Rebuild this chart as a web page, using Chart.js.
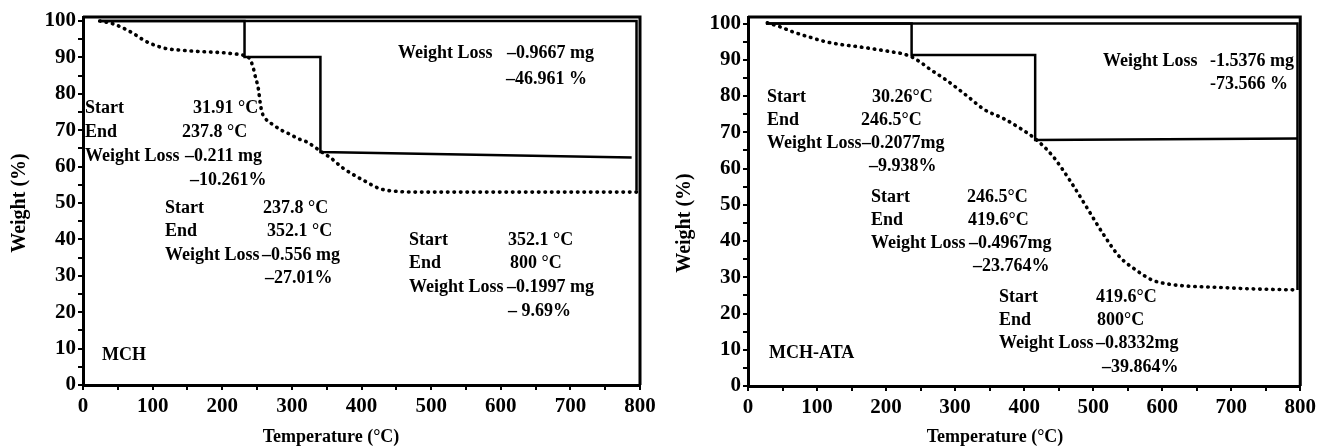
<!DOCTYPE html>
<html lang="en">
<head>
<meta charset="UTF-8">
<title>TGA curves</title>
<script src="https://cdn.jsdelivr.net/npm/chart.js"></script>
<style>
  body { margin: 0; background: #fff; }
  .row { display: flex; width: 1320px; height: 448px; }
  .panel { position: relative; width: 660px; height: 448px; }
</style>
</head>
<body>
<div class="row">
  <div class="panel"><canvas id="mchChart"></canvas></div>
  <div class="panel"><canvas id="ataChart"></canvas></div>
</div>
<script>
const FONT = "'Liberation Serif', 'Times New Roman', serif";

// MCH - weight curve (dotted)
const mchTemp   = [24, 40, 55, 72, 85, 96, 110, 120, 140, 168, 200, 216, 230, 239, 244, 247, 250, 252, 254.5, 257, 262, 273, 285, 293, 310, 321, 343, 355, 374, 390, 403, 427, 451, 480, 550, 650, 796];
const mchWeight = [100, 99.4, 98.3, 96.6, 95.0, 93.9, 92.9, 92.4, 92.0, 91.6, 91.3, 91.0, 90.6, 89.7, 87.5, 85.1, 83.0, 81.2, 77.5, 75.0, 73.2, 71.5, 70.0, 69.3, 67.6, 66.8, 64.0, 62.5, 59.5, 57.6, 56.2, 53.9, 53.2, 53.0, 53.0, 53.0, 53.0];
// MCH - step analysis line
const mchStepTemp   = [24, 232, 232, 341, 341, 788];
const mchStepWeight = [100, 100, 90.1, 90.1, 64.0, 62.5];
// MCH - total loss bracket
const mchTotalTemp   = [24, 795, 795];
const mchTotalWeight = [100, 100, 53.4];

// MCH-ATA - weight curve (dotted)
const ataTemp   = [28, 45, 65, 90, 112, 135, 160, 185, 208, 225, 237, 250, 265, 285, 304, 322, 342, 370, 395, 418, 442, 466, 490, 514, 538, 562, 586, 610, 634, 681, 729, 796];
const ataWeight = [100.2, 99.2, 97.7, 96.2, 95.0, 94.2, 93.6, 92.9, 92.2, 91.6, 90.8, 89.3, 87.2, 84.7, 82.0, 79.3, 76.3, 73.8, 71.0, 67.9, 63.3, 56.8, 49.5, 42.1, 35.7, 32.0, 29.2, 28.1, 27.6, 27.2, 26.8, 26.5];
// MCH-ATA - step analysis line
const ataStepTemp   = [26, 237, 237, 416, 416, 796];
const ataStepWeight = [100, 100, 91.3, 91.3, 67.9, 68.3];
// MCH-ATA - total loss bracket
const ataTotalTemp   = [26, 796, 796];
const ataTotalWeight = [100, 100, 26.5];

const xTickLabels = ['0', '100', '200', '300', '400', '500', '600', '700', '800'];
const yTickLabels = ['0', '10', '20', '30', '40', '50', '60', '70', '80', '90', '100'];

// annotation blocks: [text, x, y] in canvas pixels
const mchNotes = [
  ['Start', 85, 108], ['31.91 \u00B0C', 193, 108],
  ['End', 85, 132], ['237.8 \u00B0C', 182, 132],
  ['Weight Loss', 85, 156], ['\u20130.211 mg', 185, 156],
  ['\u201310.261%', 190, 180],
  ['Start', 165, 208], ['237.8 \u00B0C', 263, 208],
  ['End', 165, 231], ['352.1 \u00B0C', 267, 231],
  ['Weight Loss', 165, 255], ['\u20130.556 mg', 262, 255],
  ['\u201327.01%', 265, 278],
  ['Start', 409, 240], ['352.1 \u00B0C', 508, 240],
  ['End', 409, 263], ['800 \u00B0C', 510, 263],
  ['Weight Loss', 409, 287], ['\u20130.1997 mg', 507, 287],
  ['\u2013 9.69%', 508, 311],
  ['Weight Loss', 398, 53], ['\u20130.9667 mg', 507, 53],
  ['\u201346.961 %', 506, 79],
  ['MCH', 102, 355]
];
const ataNotes = [
  ['Start', 107, 97], ['30.26\u00B0C', 212, 97],
  ['End', 107, 120], ['246.5\u00B0C', 201, 120],
  ['Weight Loss', 107, 143], ['\u20130.2077mg', 202, 143],
  ['\u20139.938%', 209, 166],
  ['Start', 211, 197], ['246.5\u00B0C', 307, 197],
  ['End', 211, 220], ['419.6\u00B0C', 308, 220],
  ['Weight Loss', 211, 243], ['\u20130.4967mg', 309, 243],
  ['\u201323.764%', 313, 266],
  ['Start', 339, 297], ['419.6\u00B0C', 436, 297],
  ['End', 339, 320], ['800\u00B0C', 437, 320],
  ['Weight Loss', 339, 343], ['\u20130.8332mg', 436, 343],
  ['\u201339.864%', 442, 367],
  ['Weight Loss', 443, 61], ['-1.5376 mg', 550, 61],
  ['-73.566 %', 550, 84],
  ['MCH-ATA', 109, 353]
];

function toXY(xs, ys) {
  return xs.map((x, i) => ({ x: x, y: ys[i] }));
}

// frame on top and right of the plot area
const framePlugin = {
  id: 'frame',
  afterDatasetsDraw(chart) {
    const a = chart.chartArea, ctx = chart.ctx;
    ctx.save();
    ctx.strokeStyle = '#000';
    ctx.lineWidth = 3;
    ctx.beginPath();
    ctx.moveTo(a.left, a.top);
    ctx.lineTo(a.right, a.top);
    ctx.lineTo(a.right, a.bottom);
    ctx.stroke();
    ctx.restore();
  }
};

// axis titles and annotation text
const textPlugin = {
  id: 'notes',
  afterDraw(chart, args, opts) {
    const ctx = chart.ctx;
    ctx.save();
    ctx.fillStyle = '#000';
    ctx.font = 'bold 18px ' + FONT;
    ctx.textBaseline = 'middle';
    ctx.textAlign = 'left';
    opts.notes.forEach(n => ctx.fillText(n[0], n[1], n[2]));
    ctx.textAlign = 'center';
    ctx.fillText('Temperature (\u00B0C)', opts.xTitle[0], opts.xTitle[1]);
    ctx.font = 'bold 20px ' + FONT;
    ctx.translate(opts.yTitle[0], opts.yTitle[1]);
    ctx.rotate(-Math.PI / 2);
    ctx.fillText('Weight (%)', 0, 0);
    ctx.restore();
  }
};

function buildChart(id, cfg) {
  const tickFont = { family: FONT, size: 21, weight: 'bold' };
  return new Chart(document.getElementById(id), {
    type: 'line',
    data: {
      datasets: [
        {
          data: toXY(cfg.curveT, cfg.curveW),
          borderColor: '#000',
          borderWidth: 3.6,
          borderDash: [0.5, 6],
          borderCapStyle: 'round',
          pointRadius: 0,
          tension: 0.4,
          cubicInterpolationMode: 'monotone'
        },
        {
          data: toXY(cfg.stepT, cfg.stepW),
          borderColor: '#000',
          borderWidth: 2.5,
          pointRadius: 0,
          tension: 0
        },
        {
          data: toXY(cfg.totalT, cfg.totalW),
          borderColor: '#000',
          borderWidth: 2.5,
          pointRadius: 0,
          tension: 0
        }
      ]
    },
    options: {
      responsive: true,
      maintainAspectRatio: false,
      animation: false,
      layout: { padding: { top: 17, right: cfg.padRight, left: 0, bottom: 0 } },
      plugins: {
        legend: { display: false },
        tooltip: { enabled: false },
        notes: { notes: cfg.notes, xTitle: cfg.xTitle, yTitle: cfg.yTitle }
      },
      scales: {
        x: {
          type: 'linear',
          min: 0,
          max: 800,
          afterFit: s => { s.height = cfg.xHeight; },
          ticks: {
            stepSize: 50,
            autoSkip: false,
            maxRotation: 0,
            padding: 4,
            color: '#000',
            font: tickFont,
            callback: v => (v % 100 === 0 ? xTickLabels[v / 100] : '')
          },
          grid: { drawOnChartArea: false, drawTicks: true, tickLength: 5, color: '#000', lineWidth: 2 },
          border: { display: true, color: '#000', width: 3 }
        },
        y: {
          min: 0,
          max: cfg.yMax,
          afterFit: s => { s.width = cfg.yWidth; },
          // major ticks every 10, minor every 5, none above 100
          afterBuildTicks: s => {
            const ticks = [];
            for (let v = 0; v <= 100; v += 5) ticks.push({ value: v });
            s.ticks = ticks;
          },
          ticks: {
            autoSkip: false,
            padding: 2,
            color: '#000',
            font: tickFont,
            callback: v => (v % 10 === 0 ? yTickLabels[v / 10] : '')
          },
          grid: { drawOnChartArea: false, drawTicks: true, tickLength: 5, color: '#000', lineWidth: 2 },
          border: { display: true, color: '#000', width: 3 }
        }
      }
    },
    plugins: [framePlugin, textPlugin]
  });
}

buildChart('mchChart', {
  curveT: mchTemp, curveW: mchWeight,
  stepT: mchStepTemp, stepW: mchStepWeight,
  totalT: mchTotalTemp, totalW: mchTotalWeight,
  notes: mchNotes,
  yMax: 101.1, yWidth: 83, xHeight: 63, padRight: 20,
  xTitle: [331, 437], yTitle: [20, 203]
});

buildChart('ataChart', {
  curveT: ataTemp, curveW: ataWeight,
  stepT: ataStepTemp, stepW: ataStepWeight,
  totalT: ataTotalTemp, totalW: ataTotalWeight,
  notes: ataNotes,
  yMax: 101.8, yWidth: 88, xHeight: 62, padRight: 14,
  xTitle: [335, 437], yTitle: [25, 223]
});
</script>
</body>
</html>
